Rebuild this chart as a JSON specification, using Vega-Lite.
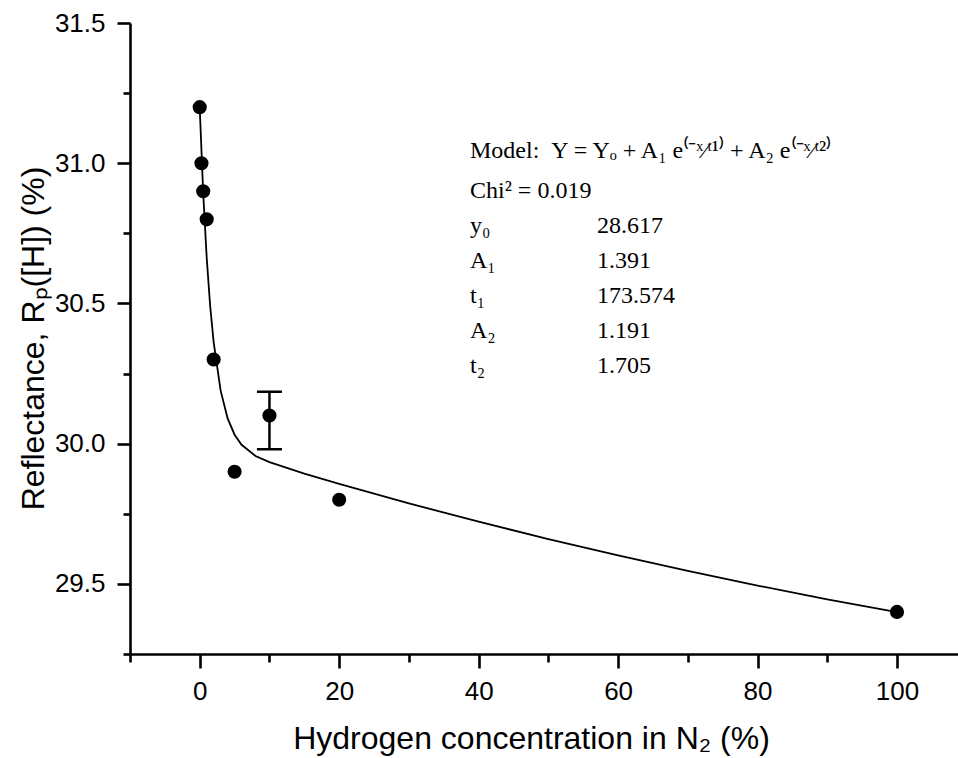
{
  "$schema": "https://vega.github.io/schema/vega-lite/v6.json",
  "width": 828,
  "height": 631,
  "autosize": {"type": "none"},
  "padding": {"left": 130, "top": 23, "right": 0, "bottom": 104},
  "background": "white",
  "config": {
    "view": {"stroke": null},
    "axis": {
      "grid": false,
      "domainColor": "black",
      "domainWidth": 2.6,
      "tickColor": "black",
      "tickWidth": 2.6,
      "labelColor": "black",
      "labelFont": "Liberation Sans",
      "labelFontSize": 26,
      "titleColor": "black",
      "titleFont": "Liberation Sans",
      "titleFontSize": 32,
      "titleFontWeight": "normal"
    }
  },
  "datasets": {
    "points": [
      {"conc": 0, "refl": 31.2},
      {"conc": 0.25, "refl": 31.0},
      {"conc": 0.5, "refl": 30.9},
      {"conc": 1, "refl": 30.8},
      {"conc": 2, "refl": 30.3},
      {"conc": 5, "refl": 29.9},
      {"conc": 10, "refl": 30.1},
      {"conc": 20, "refl": 29.8},
      {"conc": 100, "refl": 29.4}
    ],
    "fit": [
      {"conc": 0, "refl": 31.199},
      {"conc": 0.5, "refl": 30.892},
      {"conc": 1, "refl": 30.663},
      {"conc": 1.5, "refl": 30.490},
      {"conc": 2, "refl": 30.361},
      {"conc": 3, "refl": 30.189},
      {"conc": 4, "refl": 30.090},
      {"conc": 5, "refl": 30.032},
      {"conc": 6, "refl": 29.996},
      {"conc": 8, "refl": 29.956},
      {"conc": 10, "refl": 29.934},
      {"conc": 15, "refl": 29.893},
      {"conc": 20, "refl": 29.857},
      {"conc": 30, "refl": 29.787},
      {"conc": 40, "refl": 29.722},
      {"conc": 50, "refl": 29.660},
      {"conc": 60, "refl": 29.602},
      {"conc": 70, "refl": 29.546},
      {"conc": 80, "refl": 29.494},
      {"conc": 90, "refl": 29.445},
      {"conc": 100, "refl": 29.399}
    ],
    "err": [{"conc": 10, "low": 29.98, "high": 30.185}]
  },
  "layer": [
    {
      "data": {"name": "fit"},
      "mark": {"type": "line", "color": "black", "strokeWidth": 1.8},
      "encoding": {
        "x": {
          "field": "conc",
          "type": "quantitative",
          "scale": {"domain": [-10, 108.75], "nice": false, "zero": false},
          "axis": {
            "orient": "bottom",
            "values": [-10, 0, 10, 20, 30, 40, 50, 60, 70, 80, 90, 100],
            "labelExpr": "datum.value % 20 === 0 ? datum.label : ''",
            "tickSize": {"condition": {"test": "datum.value % 20 === 0", "value": 14}, "value": 8},
            "labelPadding": 10,
            "title": "Hydrogen concentration in N₂ (%)",
            "titleX": 401,
            "titleY": 94,
            "titleAlign": "center",
            "titleAnchor": null,
            "titleBaseline": "alphabetic"
          }
        },
        "y": {
          "field": "refl",
          "type": "quantitative",
          "scale": {"domain": [29.25, 31.5], "nice": false, "zero": false},
          "axis": {
            "orient": "left",
            "values": [29.25, 29.5, 29.75, 30, 30.25, 30.5, 30.75, 31, 31.25, 31.5],
            "labelExpr": "datum.value % 0.5 === 0 ? format(datum.value, '.1f') : ''",
            "tickSize": {"condition": {"test": "datum.value % 0.5 === 0", "value": 13}, "value": 7},
            "labelPadding": 12,
            "title": "Reflectance, Rₚ([H]) (%)",
            "titleX": -87,
            "titleY": 315,
            "titleAngle": 270,
            "titleAlign": "center",
            "titleAnchor": null,
            "titleBaseline": "alphabetic"
          }
        }
      }
    },
    {
      "data": {"name": "err"},
      "mark": {"type": "rule", "color": "black", "strokeWidth": 2.5},
      "encoding": {
        "x": {"field": "conc", "type": "quantitative"},
        "y": {"field": "low", "type": "quantitative"},
        "y2": {"field": "high"}
      }
    },
    {
      "data": {"name": "err"},
      "mark": {"type": "tick", "color": "black", "orient": "horizontal", "size": 25, "thickness": 2.5, "opacity": 1},
      "encoding": {
        "x": {"field": "conc", "type": "quantitative"},
        "y": {"field": "low", "type": "quantitative"}
      }
    },
    {
      "data": {"name": "err"},
      "mark": {"type": "tick", "color": "black", "orient": "horizontal", "size": 25, "thickness": 2.5, "opacity": 1},
      "encoding": {
        "x": {"field": "conc", "type": "quantitative"},
        "y": {"field": "high", "type": "quantitative"}
      }
    },
    {
      "data": {"name": "points"},
      "mark": {"type": "point", "filled": true, "color": "black", "size": 200, "opacity": 1},
      "encoding": {
        "x": {"field": "conc", "type": "quantitative"},
        "y": {"field": "refl", "type": "quantitative"}
      }
    },
    {
      "data": {"values": [{}]},
      "mark": {"type": "text", "font": "Liberation Serif", "fontSize": 24, "align": "left", "baseline": "alphabetic", "color": "black"},
      "encoding": {
        "x": {"datum": 38.76},
        "y": {"datum": 31.018},
        "text": {"value": "Model:\u00a0\u00a0Y = Yₒ + A₁\u00a0e⁽⁻ˣ⁄ᵗ¹⁾ + A₂\u00a0e⁽⁻ˣ⁄ᵗ²⁾"}
      }
    },
    {
      "data": {"values": [{}]},
      "mark": {"type": "text", "font": "Liberation Serif", "fontSize": 24, "align": "left", "baseline": "alphabetic", "color": "black", "lineHeight": 35},
      "encoding": {
        "x": {"datum": 38.76},
        "y": {"datum": 30.875},
        "text": {"value": ["Chi² = 0.019", "y₀", "A₁", "t₁", "A₂", "t₂"]}
      }
    },
    {
      "data": {"values": [{}]},
      "mark": {"type": "text", "font": "Liberation Serif", "fontSize": 24, "align": "left", "baseline": "alphabetic", "color": "black", "lineHeight": 35},
      "encoding": {
        "x": {"datum": 56.98},
        "y": {"datum": 30.75},
        "text": {"value": ["28.617", "1.391", "173.574", "1.191", "1.705"]}
      }
    }
  ]
}
